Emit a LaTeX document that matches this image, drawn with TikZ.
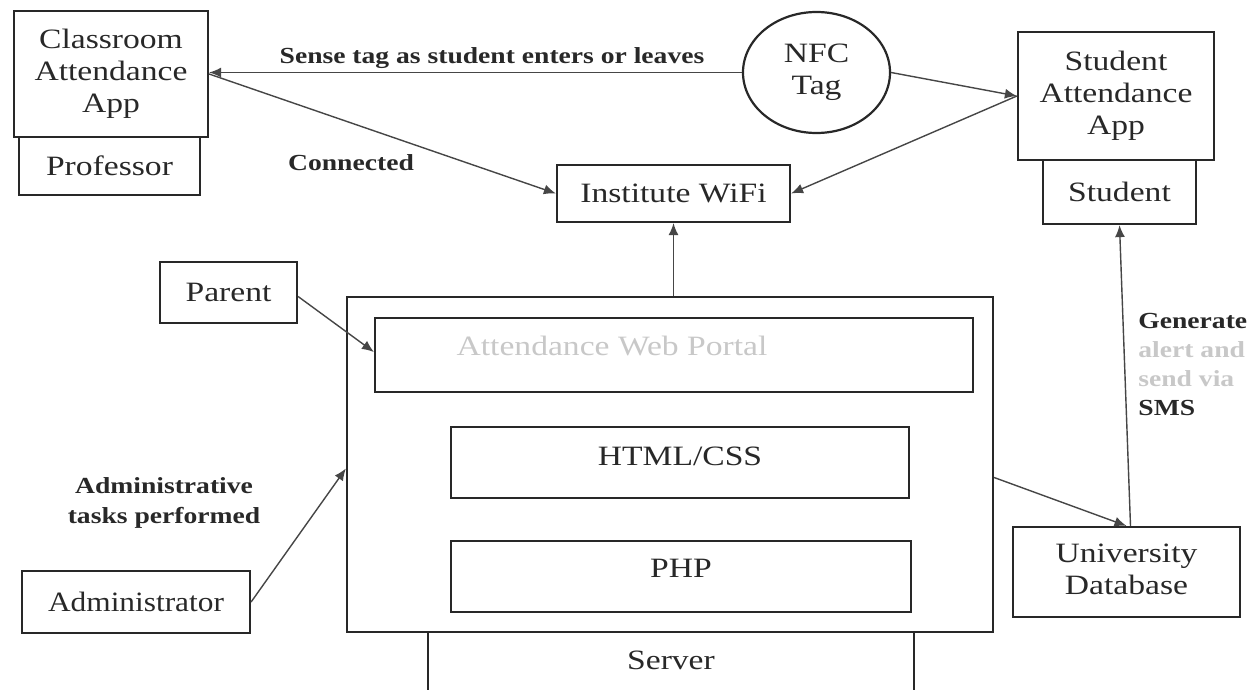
\documentclass[tikz,border=0pt]{standalone}
\usepackage{fontspec}
\usepackage{graphicx}
\setmainfont{Liberation Serif}
\usetikzlibrary{arrows.meta,shapes.geometric}
\definecolor{ink}{RGB}{40,40,40}
\definecolor{lnk}{RGB}{70,70,70}
\definecolor{smear}{RGB}{200,200,200}
\newcommand{\sx}[1]{\scalebox{1.2}[1]{#1}}
\newcommand{\stk}[1]{\sx{\begin{tabular}{@{}c@{}}#1\end{tabular}}}
\tikzset{
  box/.style={draw=ink, line width=1.1pt, rectangle, inner sep=0pt, font=\fontsize{14}{16}\selectfont, text=ink, align=center},
  txt/.style={inner sep=0pt, font=\fontsize{14}{16}\selectfont, text=ink},
  conn/.style={draw=lnk, line width=0.7pt, -{Latex[length=6pt,width=5pt]}},
  lbl/.style={font=\fontsize{11.5}{15}\selectfont\bfseries, text=ink, inner sep=0pt},
}
\begin{document}
\begin{tikzpicture}[x=0.5pt,y=-0.5pt]
\fill[white] (0,0) rectangle (1259,690);
\useasboundingbox (0,0) rectangle (1259,690);

% left column
\node[box, minimum width=97pt, minimum height=63pt] (capp) at (111,74) {\stk{Classroom\\Attendance\\App}};
\node[box, minimum width=90.5pt, minimum height=29pt] (prof) at (109.5,166) {\sx{Professor}};

% NFC tag
\node[ellipse, draw=ink, line width=1.1pt, minimum width=73.5pt, minimum height=60.5pt, inner sep=0pt, font=\fontsize{14}{16}\selectfont, text=ink] (nfc) at (816.5,72.5) {\stk{NFC\\Tag}};

% right column
\node[box, minimum width=98pt, minimum height=64pt] (sapp) at (1116,96) {\stk{Student\\Attendance\\App}};
\node[box, minimum width=76.5pt, minimum height=32pt] (stud) at (1119.5,192) {\sx{Student}};

% wifi
\node[box, minimum width=116.5pt, minimum height=28.5pt] (wifi) at (673.5,193.5) {\sx{Institute WiFi}};

% parent / admin
\node[box, minimum width=68.5pt, minimum height=30.5pt] (parent) at (228.5,292.5) {\sx{Parent}};
\node[box, minimum width=114pt, minimum height=31pt] (admin) at (136,602) {\scalebox{1.12}[1]{Administrator}};

% server block
\node[box, minimum width=323pt, minimum height=167.5pt] (outer) at (670,464.5) {};
\node[box, minimum width=299pt, minimum height=37pt] (inner) at (674,355) {};
\node[txt, text=smear] (innert) at (612,346) {\sx{Attendance Web Portal}};
\node[box, minimum width=229pt, minimum height=35.5pt] (html) at (680,462.5) {};
\node[txt] (htmlt) at (680,456) {\sx{HTML/CSS}};
\node[box, minimum width=230pt, minimum height=35.5pt] (php) at (681,576.5) {};
\node[txt] (phpt) at (681,568) {\sx{PHP}};
\node[box, minimum width=243pt, minimum height=34pt] (server) at (671,666) {};
\node[txt] (servert) at (671,660) {\sx{Server}};

% database
\node[box, minimum width=113.5pt, minimum height=45pt] (unidb) at (1126.5,572) {\stk{University\\Database}};

% connectors
\draw[conn] (nfc.west) -- (nfc.west -| capp.east);
\draw[conn] (nfc.east) -- (sapp.west);
\draw[conn] (sapp.west) -- (wifi.east);
\draw[conn] (capp.east) -- (wifi.west);
\draw[conn] (wifi.south |- outer.north) -- (wifi.south);
\draw[conn] ([yshift=-2pt]parent.east) -- ([yshift=1.5pt]inner.west);
\draw[conn] (admin.east) -- ([yshift=-2pt]outer.west);
\draw[conn] ([yshift=-6.5pt]outer.east) -- (unidb.north);
\draw[conn] ([xshift=2pt]unidb.north) -- (stud.south);

% labels
\node[lbl] (lsense) at (492,58) {\sx{Sense tag as student enters or leaves}};
\node[lbl] (lconn) at (351,163) {\sx{Connected}};
\node[lbl, align=center] (ladmin) at (164,502) {\stk{Administrative\\tasks performed}};
\node[lbl, anchor=west] (lgen1) at (1138,321) {\sx{Generate}};
\node[lbl, anchor=west, text=smear] (lgen2) at (1138,350) {\sx{alert and}};
\node[lbl, anchor=west, text=smear] (lgen3) at (1138,379) {\sx{send via}};
\node[lbl, anchor=west] (lgen4) at (1138,408) {\sx{SMS}};
\end{tikzpicture}
\end{document}
